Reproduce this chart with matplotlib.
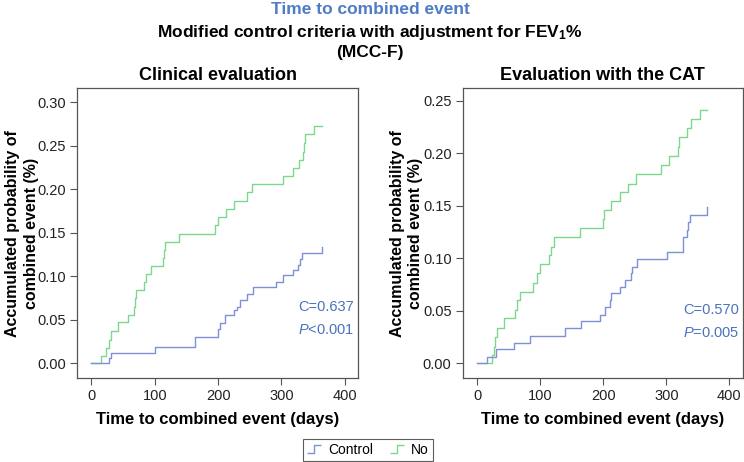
import matplotlib
matplotlib.use('Agg')
from matplotlib import pyplot as plt
from matplotlib.path import Path
from matplotlib.lines import Line2D

plt.rcParams['font.family'] = ['Liberation Sans', 'DejaVu Sans']
plt.rcParams['mathtext.fontset'] = 'custom'
plt.rcParams['mathtext.rm'] = 'Liberation Sans'
plt.rcParams['mathtext.it'] = 'Liberation Sans:italic'
plt.rcParams['mathtext.bf'] = 'Liberation Sans:bold'

# Kaplan-Meier style cumulative probabilities
clin_no_days = [0, 15.8, 23.7, 28, 30.5, 42, 57.9, 66.9, 69, 70, 83.2, 86.9, 94.8,
                113.2, 114, 116, 138.5, 195, 200, 212, 224.8, 245, 252.9, 302, 319,
                328.5, 333.8, 335, 337, 351.7, 364.3]
clin_no_prob = [0, 0.0084, 0.018, 0.0268, 0.0375, 0.047, 0.056, 0.065, 0.075, 0.084,
                0.094, 0.103, 0.112, 0.121, 0.130, 0.140, 0.149, 0.159, 0.168, 0.177,
                0.187, 0.197, 0.206, 0.215, 0.225, 0.234, 0.243, 0.253, 0.263, 0.273,
                0.273]
clin_ctrl_days = [0, 28, 31.6, 100, 163.3, 200.2, 203, 211, 225, 230, 234.5, 245,
                  255.5, 291, 302, 319, 326.7, 330, 332, 363.6]
clin_ctrl_prob = [0, 0.006, 0.0122, 0.0184, 0.0306, 0.040, 0.046, 0.0555, 0.061, 0.065,
                  0.073, 0.080, 0.088, 0.094, 0.101, 0.107, 0.113, 0.120, 0.127, 0.134]

cat_no_days = [0, 23.8, 26.5, 29.1, 31.7, 42.3, 60, 64, 67.7, 88.9, 95.2, 99.5, 113.8,
               116.4, 121.7, 162.4, 200, 200.5, 212.7, 226.5, 239.2, 252.4, 292, 304.2,
               318, 320, 332.2, 338.6, 353.4, 365]
cat_no_prob = [0, 0.0079, 0.0158, 0.0254, 0.0333, 0.0429, 0.051, 0.060, 0.068, 0.0768,
               0.0857, 0.0946, 0.103, 0.111, 0.120, 0.1286, 0.137, 0.146, 0.1546, 0.163,
               0.171, 0.180, 0.189, 0.1974, 0.206, 0.215, 0.224, 0.2327, 0.2413, 0.2413]
cat_ctrl_days = [0, 15.9, 30.7, 58.2, 83.6, 139.2, 164, 194.7, 202.1, 210, 211.6, 226.5,
                 233.9, 244, 246, 254, 301.6, 326, 327, 333, 335, 337.6, 365]
cat_ctrl_prob = [0, 0.0063, 0.0133, 0.0196, 0.0263, 0.0333, 0.0406, 0.046, 0.054, 0.060,
                 0.0667, 0.073, 0.079, 0.086, 0.092, 0.0993, 0.1063, 0.113, 0.1206, 0.127,
                 0.134, 0.141, 0.1486]

panel_titles = ['Clinical evaluation', 'Evaluation with the CAT']
stats = [('C=0.637', '<0.001'), ('C=0.570', '=0.005')]
y_ticks = [[0, 0.05, 0.10, 0.15, 0.20, 0.25, 0.30], [0, 0.05, 0.10, 0.15, 0.20, 0.25]]
x_ticks = [0, 100, 200, 300, 400]

BLUE = '#7f90d6'
GREEN = '#7cd88c'
TXT_BLUE = '#4a72be'

fig = plt.figure(figsize=(7.44, 4.62), dpi=100)
ax1 = fig.add_axes([0.1035, 0.1812, 0.3781, 0.6283])
ax2 = fig.add_axes([0.6219, 0.1812, 0.3767, 0.6283])

series = [(clin_ctrl_days, clin_ctrl_prob, clin_no_days, clin_no_prob),
          (cat_ctrl_days, cat_ctrl_prob, cat_no_days, cat_no_prob)]
ylims = [(-0.0172, 0.3164), (-0.0143, 0.262)]
ylab_x = [-0.135, -0.14]

for i, ax in enumerate([ax1, ax2]):
    cd, cp, nd, npr = series[i]
    ax.step(nd, npr, where='post', color=GREEN, lw=1.0)
    ax.step(cd, cp, where='post', color=BLUE, lw=1.0)
    ax.set_xlim(-22.8, 421.5)
    ax.set_ylim(*ylims[i])
    ax.set_xticks(x_ticks)
    ax.set_yticks(y_ticks[i])
    ax.set_yticklabels(['%.2f' % v for v in y_ticks[i]])
    for s in ax.spines.values():
        s.set_color('#555555')
        s.set_linewidth(0.9)
    ax.tick_params(direction='out', length=5, width=0.8, color='#555555',
                   labelsize=10.5, labelcolor='#222222', pad=3)
    ax.set_title(panel_titles[i], fontsize=13, fontweight='bold', pad=6)
    ax.set_xlabel('Time to combined event (days)', fontsize=12, fontweight='bold', labelpad=6)
    ax.set_ylabel('Accumulated probability of\ncombined event (%)', fontsize=11.5,
                  fontweight='bold', linespacing=1.3)
    ax.yaxis.set_label_coords(ylab_x[i], 0.5)
    c_txt, p_txt = stats[i]
    ax.text(0.985, 0.245 if i == 0 else 0.235, c_txt, transform=ax.transAxes, ha='right',
            va='center', color=TXT_BLUE, fontsize=10.5)
    ax.text(0.985, 0.165 if i == 0 else 0.155, r'$\mathit{P}$' + p_txt, transform=ax.transAxes,
            ha='right', va='center', color=TXT_BLUE, fontsize=10.5)

fig.text(0.4975, 1 - 10 / 462, 'Time to combined event', ha='center', va='center',
         color='#4f7cc7', fontsize=12.5, fontweight='bold')
fig.text(0.4975, 1 - 32 / 462, r'Modified control criteria with adjustment for FEV$_{\mathbf{1}}$%',
         ha='center', va='center', fontsize=12.5, fontweight='bold')
fig.text(0.4975, 1 - 53 / 462, '(MCC-F)', ha='center', va='center', fontsize=12.5,
         fontweight='bold')

step = Path([(-1, -0.6), (0, -0.6), (0, 0.6), (1, 0.6)],
            [Path.MOVETO, Path.LINETO, Path.LINETO, Path.LINETO])
handles = [Line2D([], [], ls='none', marker=step, markersize=10, mfc='none', mec=BLUE, mew=1.0),
           Line2D([], [], ls='none', marker=step, markersize=10, mfc='none', mec=GREEN, mew=1.0)]
leg = fig.legend(handles, ['Control', 'No'], loc='center', bbox_to_anchor=(368 / 744, 1 - 450 / 462),
                 ncol=2, fontsize=10, frameon=True, fancybox=False, edgecolor='#333333',
                 handlelength=1.0, handletextpad=0.5, columnspacing=1.2, borderpad=0.3)
leg.get_frame().set_linewidth(0.8)

fig.savefig('out.png', dpi=100)
